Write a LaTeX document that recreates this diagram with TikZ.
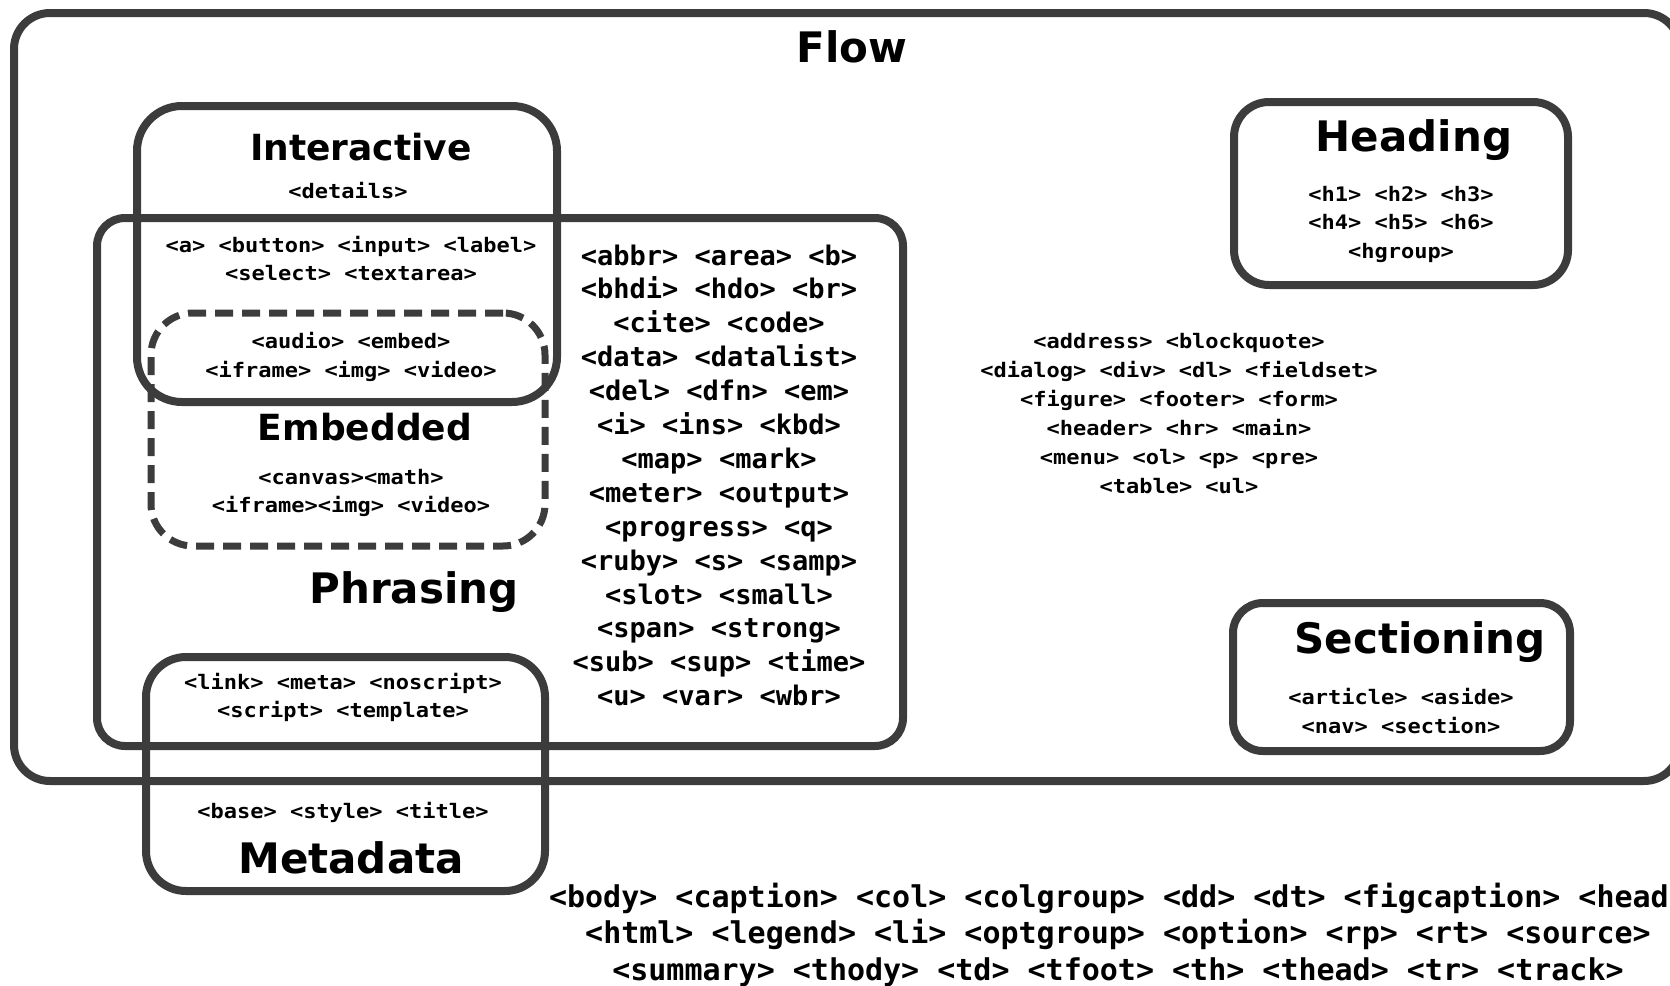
\documentclass[tikz,border=0pt]{standalone}
\usepackage{fontspec}
\newfontfamily\tagf{DejaVu Sans Mono}[FakeStretch=1.1]
\newfontfamily\monof{DejaVu Sans Mono}
\newfontfamily\ttlf{DejaVu Sans}
\definecolor{boxc}{HTML}{3C3C3C}
\tikzset{
  box/.style={draw=boxc, line width=8pt, rounded corners=#1, inner sep=0pt, outer sep=0pt, rectangle},
  dbox/.style={box=#1, line width=7pt, dash pattern=on 18pt off 9pt},
  tag/.style={anchor=base, inner sep=0pt, font=\tagf\bfseries\fontsize{20}{24}\selectfont},
  ptag/.style={anchor=base, inner sep=0pt, font=\monof\bfseries\fontsize{27}{32}\selectfont},
  btag/.style={anchor=base, inner sep=0pt, font=\monof\bfseries\fontsize{30}{36}\selectfont},
  ttl/.style={anchor=base, inner sep=0pt, font=\ttlf\bfseries\fontsize{#1}{#1}\selectfont},
}
\begin{document}
\begin{tikzpicture}[x=1pt, y=-1pt]
\useasboundingbox (0,0) rectangle (1670,985);
% boxes
\node[box=36, minimum width=1666pt, minimum height=768pt] (flow) at (847,397) {};
\node[box=45, minimum width=420pt, minimum height=296pt] (interactive) at (347,254) {};
\node[box=28, minimum width=806pt, minimum height=528pt] (phrasing) at (500,482) {};
\node[dbox=42, minimum width=394pt, minimum height=233pt] (embedded) at (348,429.5) {};
\node[box=40, minimum width=399pt, minimum height=234pt] (metadata) at (345.5,774) {};
\node[box=35, minimum width=334pt, minimum height=183pt] (heading) at (1401,193.5) {};
\node[box=30, minimum width=337pt, minimum height=148pt] (sectioning) at (1401.5,677) {};
% titles
\node[ttl=42] (tflow) at (852,62) {Flow};
\node[ttl=36] (tinter) at (361,160) {Interactive};
\node[ttl=36] (temb) at (365,440) {Embedded};
\node[ttl=42] (tphr) at (414,603) {Phrasing};
\node[ttl=42] (tmeta) at (351,873) {Metadata};
\node[ttl=42] (thead) at (1414,151) {Heading};
\node[ttl=42] (tsect) at (1420,653) {Sectioning};
% interactive
\node[tag] (i1) at (348,198) {<details>};
\node[tag] (i2) at (351,252) {<a> <button> <input> <label>};
\node[tag] (i3) at (351,280) {<select> <textarea>};
\node[tag] (i4) at (351,348) {<audio> <embed>};
\node[tag] (i5) at (351,377) {<iframe> <img> <video>};
% embedded
\node[tag] (e1) at (351,484) {<canvas><math>};
\node[tag] (e2) at (351,512) {<iframe><img> <video>};
% metadata
\node[tag] (m1) at (343,689) {<link> <meta> <noscript>};
\node[tag] (m2) at (343,717) {<script> <template>};
\node[tag] (m3) at (343,818) {<base> <style> <title>};
% heading
\node[tag] (h1) at (1401,201) {<h1> <h2> <h3>};
\node[tag] (h2) at (1401,229) {<h4> <h5> <h6>};
\node[tag] (h3) at (1401,258) {<hgroup>};
% sectioning
\node[tag] (s1) at (1401,704) {<article> <aside>};
\node[tag] (s2) at (1401,733) {<nav> <section>};
% flow list
\node[tag] (f1) at (1179,348) {<address> <blockquote>};
\node[tag] (f2) at (1179,377) {<dialog> <div> <dl> <fieldset>};
\node[tag] (f3) at (1179,406) {<figure> <footer> <form>};
\node[tag] (f4) at (1179,435) {<header> <hr> <main>};
\node[tag] (f5) at (1179,464) {<menu> <ol> <p> <pre>};
\node[tag] (f6) at (1179,493) {<table> <ul>};
% phrasing list
\node[ptag] (p1) at (719,265.0) {<abbr> <area> <b>};
\node[ptag] (p2) at (719,298.9) {<bhdi> <hdo> <br>};
\node[ptag] (p3) at (719,332.8) {<cite> <code>};
\node[ptag] (p4) at (719,366.7) {<data> <datalist>};
\node[ptag] (p5) at (719,400.6) {<del> <dfn> <em>};
\node[ptag] (p6) at (719,434.5) {<i> <ins> <kbd>};
\node[ptag] (p7) at (719,468.4) {<map> <mark>};
\node[ptag] (p8) at (719,502.3) {<meter> <output>};
\node[ptag] (p9) at (719,536.2) {<progress> <q>};
\node[ptag] (p10) at (719,570.1) {<ruby> <s> <samp>};
\node[ptag] (p11) at (719,604.0) {<slot> <small>};
\node[ptag] (p12) at (719,637.9) {<span> <strong>};
\node[ptag] (p13) at (719,671.8) {<sub> <sup> <time>};
\node[ptag] (p14) at (719,705.7) {<u> <var> <wbr>};
% bottom list
\node[btag] (b1) at (1118,907) {<body> <caption> <col> <colgroup> <dd> <dt> <figcaption> <head>};
\node[btag] (b2) at (1118,943) {<html> <legend> <li> <optgroup> <option> <rp> <rt> <source>};
\node[btag] (b3) at (1118,980) {<summary> <thody> <td> <tfoot> <th> <thead> <tr> <track>};
\end{tikzpicture}
\end{document}
